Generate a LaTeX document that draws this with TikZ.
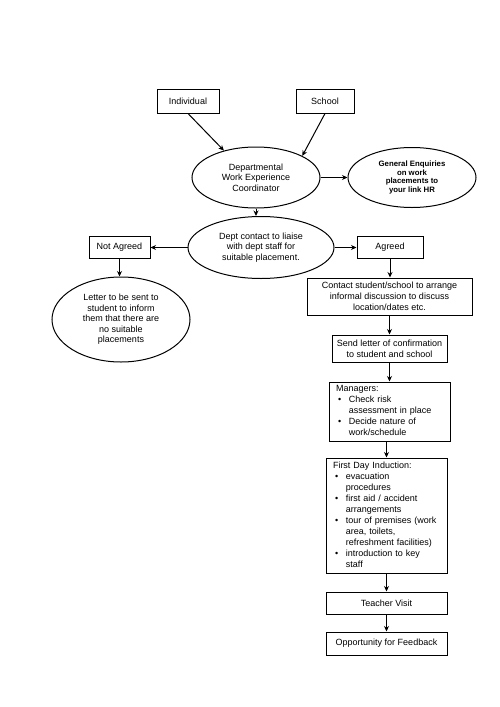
\documentclass[tikz,border=0pt]{standalone}
\usepackage{fontspec}
\setmainfont{Liberation Sans}
\usetikzlibrary{shapes.geometric,arrows.meta}
\begin{document}
\begin{tikzpicture}[x=1pt,y=-1pt,
  box/.style={draw, line width=1pt, rectangle, inner sep=0pt, align=center, font=\fontsize{9}{11}\selectfont},
  oval/.style={draw, line width=1pt, ellipse, inner sep=0pt, align=center, font=\fontsize{9}{10.5}\selectfont},
  listbox/.style={box, text width=107pt, align=left},
  arr/.style={line width=1pt, -{Stealth[length=5.5pt,width=5pt]}}]
\fill[white] (0,0) rectangle (500,707);
\useasboundingbox (0,0) rectangle (500,707);

\node[box, minimum width=62pt, minimum height=24pt] (ind) at (188,101) {Individual};
\node[box, minimum width=58pt, minimum height=24pt] (sch) at (325,101) {School};
\node[oval, minimum width=128pt, minimum height=61pt] (coord) at (256,177.5) {Departmental\\Work Experience\\Coordinator};
\node[oval, minimum width=128pt, minimum height=60pt, font=\bfseries\fontsize{7.8}{8.5}\selectfont] (ge) at (412,177.5) {General Enquiries\\on work\\placements to\\your link HR};
\node[oval, minimum width=146pt, minimum height=62pt] (dept) at (261,247.5) {Dept contact to liaise\\with dept staff for\\suitable placement.};
\node[box, minimum width=61pt, minimum height=22pt] (nag) at (119.5,247.5) {Not Agreed};
\node[oval, minimum width=138pt, minimum height=85pt, font=\fontsize{9}{10.5}\selectfont] (letter) at (121,319.5) {Letter to be sent to\\student to inform\\them that there are\\no suitable\\placements};
\node[box, minimum width=66pt, minimum height=22pt] (ag) at (390,247.5) {Agreed};
\node[box, minimum width=165pt, minimum height=37pt] (contact) at (389.5,296.5) {Contact student/school to arrange\\informal discussion to discuss\\location/dates etc.};
\node[box, minimum width=115pt, minimum height=27pt] (send) at (389.5,348.5) {Send letter of confirmation\\to student and school};
\node[listbox, minimum width=121pt, minimum height=59pt] (mgr) at (389.5,411.5) {%
\begin{tabular}{@{\hspace{2pt}}l@{\hspace{7.8pt}}l@{}}
\multicolumn{2}{@{}l@{}}{Managers:}\\
\textbullet & Check risk\\
 & assessment in place\\
\textbullet & Decide nature of\\
 & work/schedule
\end{tabular}};
\node[listbox, minimum width=121pt, minimum height=115pt] (fd) at (386.5,515.5) {%
\begin{tabular}{@{\hspace{2pt}}l@{\hspace{7.8pt}}l@{}}
\multicolumn{2}{@{}l@{}}{First Day Induction:}\\
\textbullet & evacuation\\
 & procedures\\
\textbullet & first aid / accident\\
 & arrangements\\
\textbullet & tour of premises (work\\
 & area, toilets,\\
 & refreshment facilities)\\
\textbullet & introduction to key\\
 & staff
\end{tabular}};
\node[box, minimum width=121pt, minimum height=22pt] (tv) at (386.5,603) {Teacher Visit};
\node[box, minimum width=121pt, minimum height=23pt] (opp) at (386.5,643.5) {Opportunity for Feedback};

\draw[arr] (ind.south) -- (coord.140);
\draw[arr] (sch.south) -- (coord.25);
\draw[arr] (coord.east) -- (ge.west);
\draw[arr] (coord.south) -- (coord.south |- dept.north);
\draw[arr] (dept.west) -- (nag.east);
\draw[arr] (dept.east) -- (ag.west);
\draw[arr] (nag.south) -- (nag.south |- letter.north);
\draw[arr] (ag.south) -- (ag.south |- contact.north);
\draw[arr] (contact.south) -- (contact.south |- send.north);
\draw[arr] (send.south) -- (send.south |- mgr.north);
\draw[arr] (fd.north |- mgr.south) -- (fd.north);
\draw[arr] (fd.south) -- (fd.south |- tv.north);
\draw[arr] (tv.south) -- (tv.south |- opp.north);
\end{tikzpicture}
\end{document}
